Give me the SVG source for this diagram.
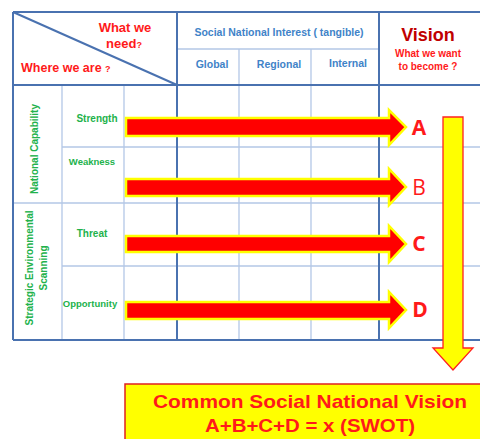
<svg xmlns="http://www.w3.org/2000/svg" width="480" height="439" viewBox="0 0 480 439">
<style>
.dk{stroke:#4a72b0;stroke-width:2;fill:none}
.lt{stroke:#b3c7e6;stroke-width:1.3;fill:none}
.t{font-family:"Liberation Sans",Arial,sans-serif;font-weight:bold}
.red{fill:#ff1a1a}
.blue{fill:#3f83c8}
.grn{fill:#22b24c}
.arr{fill:#ff0000;stroke:#ffff00;stroke-width:2.5;stroke-linejoin:miter}
.let{font-family:"Open Sans","Liberation Sans",sans-serif;font-size:21px;fill:#ff1a1a}
</style>
<rect width="480" height="439" fill="#ffffff"/>
<g id="grid">
<line class="lt" x1="62" y1="85" x2="62" y2="340"/>
<line class="lt" x1="124" y1="85" x2="124" y2="340"/>
<line class="lt" x1="239" y1="49" x2="239" y2="340"/>
<line class="lt" x1="311" y1="49" x2="311" y2="340"/>
<line class="lt" x1="177" y1="49" x2="379" y2="49"/>
<line class="lt" x1="62" y1="147" x2="480" y2="147"/>
<line class="lt" x1="13" y1="203" x2="480" y2="203"/>
<line class="lt" x1="62" y1="266" x2="480" y2="266"/>
<line class="dk" x1="13" y1="12" x2="480" y2="12"/>
<line class="dk" x1="13" y1="85" x2="480" y2="85"/>
<line class="dk" x1="13" y1="340" x2="480" y2="340"/>
<line class="dk" x1="13" y1="12" x2="13" y2="340"/>
<line class="dk" x1="177" y1="12" x2="177" y2="340"/>
<line class="dk" x1="379" y1="12" x2="379" y2="340"/>
<line class="dk" x1="13" y1="12" x2="177" y2="85"/>
</g>
<g id="header">
<text class="t red" x="125" y="32" font-size="13" text-anchor="middle">What we</text>
<text class="t red" x="124" y="48" font-size="13" text-anchor="middle">need<tspan font-size="9">?</tspan></text>
<text class="t red" x="21" y="72" font-size="12.5">Where we are <tspan font-size="9">?</tspan></text>
<text class="t blue" x="279" y="36" font-size="10.5" text-anchor="middle">Social   National Interest ( tangible)</text>
<text class="t blue" x="212" y="68" font-size="10.5" text-anchor="middle">Global</text>
<text class="t blue" x="279" y="68" font-size="10.5" text-anchor="middle">Regional</text>
<text class="t blue" x="348" y="67" font-size="10.5" text-anchor="middle">Internal</text>
<text class="t" x="428" y="41" font-size="18" fill="#c00000" text-anchor="middle">Vision</text>
<text class="t red" x="428" y="57" font-size="10" text-anchor="middle">What we want</text>
<text class="t red" x="428" y="70" font-size="10" text-anchor="middle">to become ?</text>
</g>
<g id="rows">
<text class="t grn" transform="translate(38,149) rotate(-90)" font-size="10" text-anchor="middle">National Capability</text>
<text class="t grn" transform="translate(33,268) rotate(-90)" font-size="10" text-anchor="middle">Strategic  Environmental</text>
<text class="t grn" transform="translate(47,268) rotate(-90)" font-size="10" text-anchor="middle">Scanning</text>
<text class="t grn" x="97" y="122" font-size="10" text-anchor="middle">Strength</text>
<text class="t grn" x="92" y="165" font-size="9.5" text-anchor="middle">Weakness</text>
<text class="t grn" x="92" y="237" font-size="10" text-anchor="middle">Threat</text>
<text class="t grn" x="90" y="307" font-size="9.5" text-anchor="middle">Opportunity</text>
</g>
<g id="connectors">
<path class="arr" d="M126,118 H389 V110 L406,127 L389,145 V136 H126 Z"/>
<path class="arr" d="M126,179 H389 V169 L406,187 L389,205 V196 H126 Z"/>
<path class="arr" d="M126,236 H389 V226 L406,244 L389,262 V252 H126 Z"/>
<path class="arr" d="M126,302 H389 V292 L406,310 L389,328 V319 H126 Z"/>
<path d="M443,117 H463 V348 H473 L453,370 L433,348 H443 Z" fill="#ffff00" stroke="#ff2020" stroke-width="1.3"/>
</g>
<g id="letters">
<text class="let" x="419" y="135" font-weight="bold" text-anchor="middle">A</text>
<text class="let" x="419" y="195" text-anchor="middle">B</text>
<text class="let" x="419" y="251" font-weight="bold" text-anchor="middle">C</text>
<text class="let" x="420" y="317" font-weight="bold" text-anchor="middle">D</text>
</g>
<g id="vision-box">
<rect x="125" y="384" width="360" height="60" fill="#ffff00" stroke="#e02020" stroke-width="1.5"/>
<text class="t red" x="310" y="408" font-size="19" text-anchor="middle" textLength="314" lengthAdjust="spacingAndGlyphs">Common Social National Vision</text>
<text class="t red" x="310" y="432" font-size="19" text-anchor="middle" textLength="210" lengthAdjust="spacingAndGlyphs">A+B+C+D = x (SWOT)</text>
</g>
</svg>
